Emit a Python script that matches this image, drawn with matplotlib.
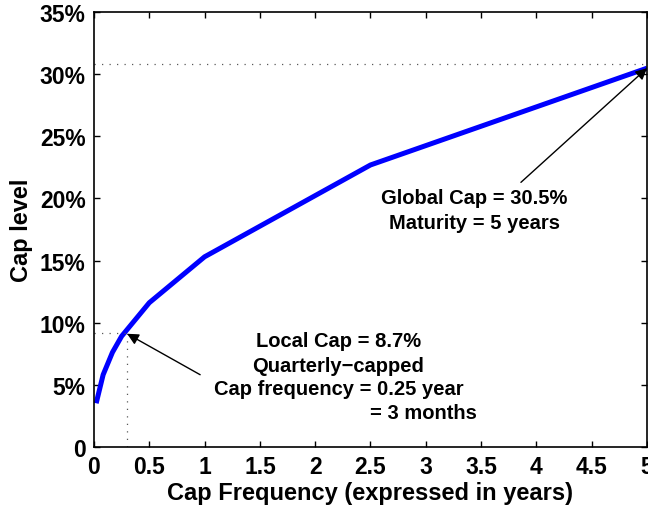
import matplotlib.pyplot as plt

# cap level as a function of cap frequency (years)
freq = [0.02, 0.083, 0.167, 0.25, 0.5, 1.0, 2.5, 5.0]
cap_level = [3.5, 5.8, 7.6, 8.9, 11.6, 15.3, 22.7, 30.5]

x_ticks = [0, 0.5, 1, 1.5, 2, 2.5, 3, 3.5, 4, 4.5, 5]
x_tick_labels = ["0", "0.5", "1", "1.5", "2", "2.5", "3", "3.5", "4", "4.5", "5"]
y_ticks = [0, 5, 10, 15, 20, 25, 30, 35]
y_tick_labels = ["0", "5%", "10%", "15%", "20%", "25%", "30%", "35%"]

local_lines = ["Local Cap = 8.7%", "Quarterly\u2212capped", "Cap frequency = 0.25 year"]
local_line_y = [8.55, 6.55, 4.65]
global_lines = ["Global Cap = 30.5%", "Maturity = 5 years"]
global_line_y = [20.05, 18.05]

local_x, local_y = 0.3, 9.2
global_x, global_y = 5.0, 30.8

plt.rcParams['font.family'] = ['Liberation Sans', 'DejaVu Sans']
plt.rcParams['font.weight'] = 'bold'

fig = plt.figure(figsize=(6.48, 5.06), dpi=100)
ax = fig.add_axes([0.145, 0.1152, 0.8535, 0.8585])

ax.plot(freq, cap_level, color=(0, 0, 1), lw=3.6, solid_capstyle='butt')

# dotted guide lines
dot = dict(color='0.35', lw=0.9, linestyle=(0, (1, 5)))
ax.plot([0, global_x], [global_y, global_y], **dot)
ax.plot([0, local_x], [local_y, local_y], **dot)
ax.plot([local_x, local_x], [0, local_y], **dot)

arrow = dict(arrowstyle='-|>', color='black', lw=1.0, mutation_scale=17,
             shrinkA=0, shrinkB=0)
ax.annotate("", xy=(0.3, 9.1), xytext=(0.96, 5.8), arrowprops=arrow)
ax.annotate("", xy=(5.0, 30.5), xytext=(3.86, 21.3), arrowprops=arrow)

for txt, yy in zip(local_lines, local_line_y):
    ax.text(2.21, yy, txt, ha='center', va='center', fontsize=14.5, fontweight='bold')
ax.text(3.46, 2.72, "= 3 months", ha='right', va='center', fontsize=14.5,
        fontweight='bold')
for txt, yy in zip(global_lines, global_line_y):
    ax.text(3.44, yy, txt, ha='center', va='center', fontsize=14.5, fontweight='bold')

ax.set_xlim(0, 5)
ax.set_ylim(0, 35)
ax.set_xticks(x_ticks)
ax.set_xticklabels(x_tick_labels)
ax.set_yticks(y_ticks)
ax.set_yticklabels(y_tick_labels)
ax.tick_params(direction='in', length=4.5, width=1, labelsize=16.5,
               top=True, right=True, pad=6)
for s in ax.spines.values():
    s.set_linewidth(1.2)

ax.set_xlabel("Cap Frequency (expressed in years)", fontsize=17, fontweight='bold',
              labelpad=2)
ax.set_ylabel("Cap level", fontsize=17, fontweight='bold', labelpad=5)

fig.savefig("out.png", dpi=100)
